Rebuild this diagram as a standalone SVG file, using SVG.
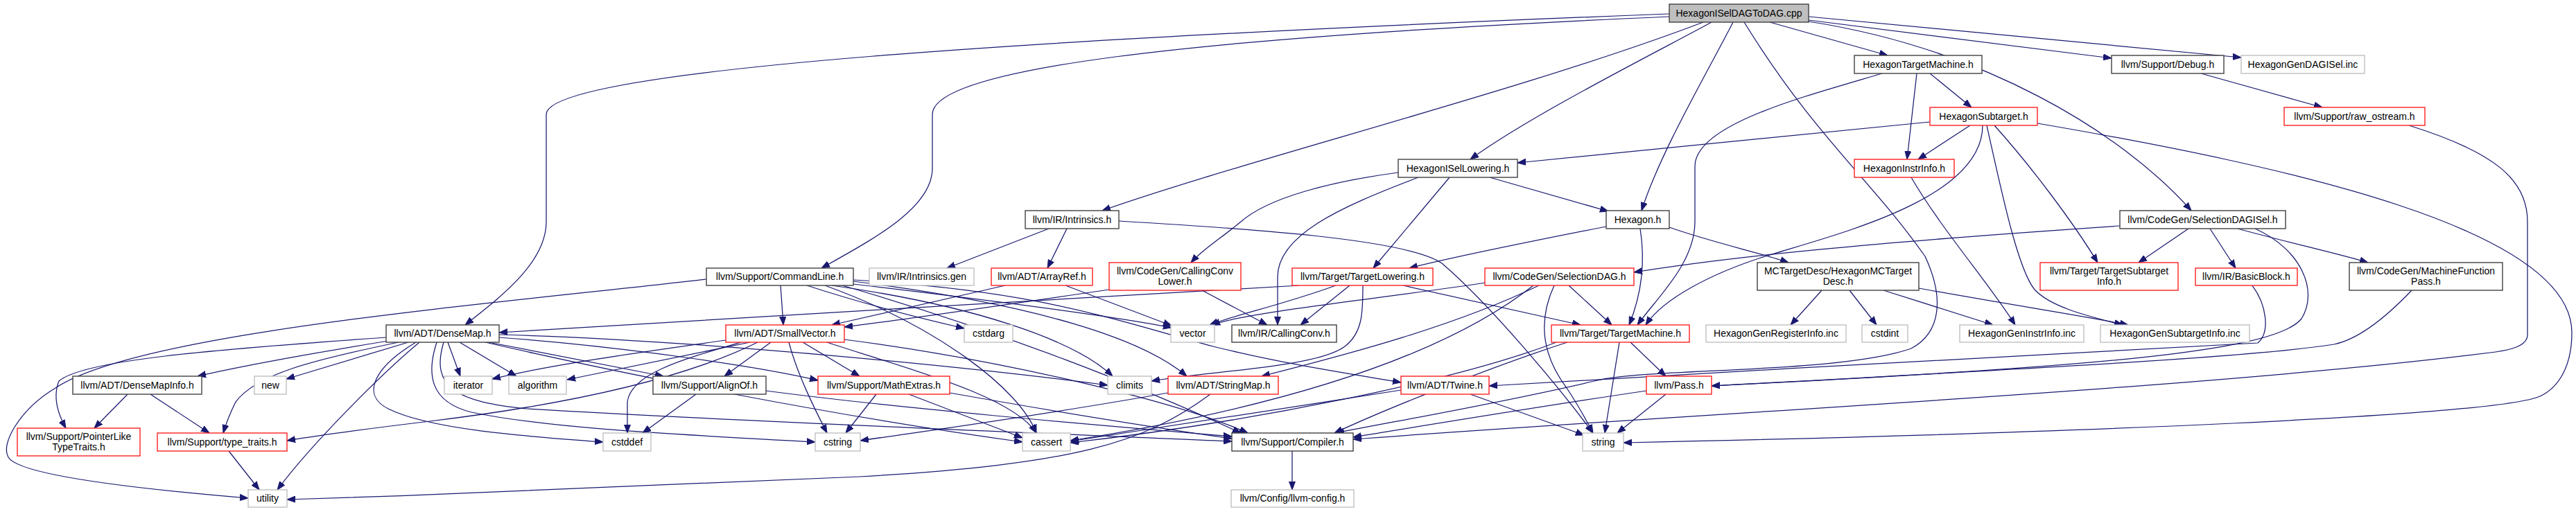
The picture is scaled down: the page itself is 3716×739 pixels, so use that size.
<svg xmlns="http://www.w3.org/2000/svg" width="3716" height="739" viewBox="0 0 3716 739">
<style>
rect{fill:#fff;stroke-width:1.4}
.b{stroke:#404040}
.r{stroke:#ff2020}
.g{stroke:#c0c0c0}
.root{fill:#bfbfbf;stroke:#404040}
text{font-family:"Liberation Sans",Arial,sans-serif;font-size:14px;text-anchor:middle;fill:#000}
#edges path{fill:none;stroke:#191970;stroke-width:1.25;marker-end:url(#a)}
</style>
<defs>
<marker id="a" viewBox="0 0 12 10" refX="12" refY="5" markerWidth="12" markerHeight="10" markerUnits="userSpaceOnUse" orient="auto">
<path d="M0,0.5 L12,5 L0,9.5 z" fill="#191970" stroke="#191970" stroke-width="1"/>
</marker>
</defs>
<rect x="0" y="0" width="3716" height="739" style="fill:#fff;stroke:none"/>
<g id="edges">
<path d="M2553,32 L2723,80"/>
<path d="M2609,29 L3046,84"/>
<path d="M2609,24 L3233,83"/>
<path d="M2469,32 C2400,70 2210,165 2121,230"/>
<path d="M2457,32 C2200,130 1800,230 1590,304"/>
<path d="M2500,32 C2460,110 2395,220 2368,304"/>
<path d="M2408,24 C1700,55 1345,100 1345,165 L1345,243 C1345,300 1260,345 1185,387"/>
<path d="M2408,20 C1500,55 788,100 788,165 L788,320 C788,380 720,430 671,469"/>
<path d="M2609,31 C2860,70 3060,190 3161,304"/>
<path d="M2516,32 C2620,200 2700,260 2777,370 C2805,430 2800,480 2757,503 C2650,540 2380,530 2300,550 C2150,585 2000,610 1927,625"/>
<path d="M2784,106 L2844,155"/>
<path d="M2765,106 L2751,230"/>
<path d="M2715,106 C2600,140 2445,180 2445,240 L2445,320 C2445,380 2390,430 2362,469"/>
<path d="M2784,176 L2189,235"/>
<path d="M2842,181 L2767,230"/>
<path d="M2860,181 C2860,290 2640,340 2540,372 C2470,395 2400,430 2374,469"/>
<path d="M2866,181 C2890,290 2912,390 2935,418 C2960,445 3020,458 3062,469"/>
<path d="M2877,181 C2930,240 2990,320 3026,379"/>
<path d="M2939,178 C3300,240 3710,330 3710,480 C3710,530 3690,560 3664,572 C3600,600 3000,625 2342,639"/>
<path d="M2757,256 C2800,330 2870,410 2907,469"/>
<path d="M2149,256 L2320,305"/>
<path d="M2017,249 C1920,262 1830,285 1790,320 C1760,345 1735,360 1718,379"/>
<path d="M2046,256 C1930,300 1843,340 1843,400 L1843,469"/>
<path d="M2091,256 L1981,387"/>
<path d="M2317,327 C2200,350 2100,370 2033,387"/>
<path d="M2366,330 C2374,380 2368,425 2350,469"/>
<path d="M2408,328 C2470,350 2540,365 2580,379"/>
<path d="M1513,330 L1366,387"/>
<path d="M1539,330 L1511,387"/>
<path d="M1614,319 C1800,330 2030,345 2080,380 C2150,440 2250,560 2298,625"/>
<path d="M3058,326 C2700,350 2500,370 2357,393"/>
<path d="M3157,330 L3085,379"/>
<path d="M3188,330 L3225,387"/>
<path d="M3228,330 C3300,350 3370,365 3416,379"/>
<path d="M3253,330 C3320,360 3345,420 3320,460 C3280,510 3000,530 2469,557"/>
<path d="M2628,419 L2583,469"/>
<path d="M2668,419 L2707,469"/>
<path d="M2717,419 L2875,469"/>
<path d="M2768,416 C2900,440 3000,455 3070,469"/>
<path d="M3175,106 L3350,155"/>
<path d="M3475,181 C3600,220 3646,260 3646,320 L3646,483 C3646,500 3620,505 3600,508 C3200,560 2400,600 1952,634"/>
<path d="M3249,412 C3270,440 3275,480 3257,495 C3000,510 2500,535 2148,557"/>
<path d="M3479,419 C3440,460 3400,490 3367,497 C3250,515 3000,528 2469,557"/>
<path d="M2352,494 L2403,543"/>
<path d="M2336,494 L2315,625"/>
<path d="M2261,494 C2150,530 2000,590 1925,625"/>
<path d="M2245,494 C2100,550 1800,610 1544,639"/>
<path d="M2263,412 L2325,469"/>
<path d="M2242,412 C2215,470 2230,520 2260,560 C2280,590 2290,610 2298,625"/>
<path d="M2143,408 C2000,430 1800,450 1748,469"/>
<path d="M2212,412 C2100,500 1900,580 1544,636"/>
<path d="M2220,412 C2100,470 1950,510 1820,543"/>
<path d="M1874,412 C1600,430 1000,460 720,480"/>
<path d="M1927,412 C1850,440 1780,455 1745,469"/>
<path d="M1947,412 L1876,469"/>
<path d="M2024,412 L2280,469"/>
<path d="M1966,412 C1966,450 1966,480 1940,500 C1900,530 1750,535 1661,550"/>
<path d="M1600,418 C1450,440 1300,462 1218,472"/>
<path d="M1734,419 L1828,469"/>
<path d="M1450,412 C1350,435 1260,455 1200,469"/>
<path d="M1537,412 L1690,470"/>
<path d="M1126,412 L1130,469"/>
<path d="M1164,412 C1250,440 1330,460 1391,474"/>
<path d="M1019,403 C700,440 200,480 80,560 C30,590 0,640 12,660 C30,690 250,710 358,719"/>
<path d="M1231,410 C1400,430 1600,455 1690,473"/>
<path d="M1200,412 C1400,440 1550,490 1605,543"/>
<path d="M1231,406 C1500,440 1650,490 1712,543"/>
<path d="M1231,404 C1500,420 1600,460 1750,500 C1850,525 1950,540 2021,552"/>
<path d="M1215,412 C1450,480 1650,560 1790,625"/>
<path d="M1190,412 C1350,470 1470,560 1495,625"/>
<path d="M1047,491 C950,505 800,525 710,547"/>
<path d="M1082,494 L818,548"/>
<path d="M1069,494 C980,520 910,540 905,580 L905,625"/>
<path d="M1112,494 L1045,543"/>
<path d="M1138,494 C1150,540 1175,590 1193,625"/>
<path d="M1158,494 L1240,543"/>
<path d="M1093,494 C1000,540 850,580 620,608 C520,620 450,630 414,636"/>
<path d="M1193,494 C1300,530 1460,570 1495,625"/>
<path d="M1218,490 C1450,520 1700,580 1800,625"/>
<path d="M557,487 C300,505 120,520 85,550 C75,575 85,600 95,618"/>
<path d="M560,492 C450,510 350,528 285,543"/>
<path d="M575,494 C450,520 370,540 340,580 C330,600 325,615 322,625"/>
<path d="M589,494 L413,547"/>
<path d="M605,494 C550,540 450,640 400,707"/>
<path d="M646,494 L664,543"/>
<path d="M663,494 L745,543"/>
<path d="M705,494 L957,543"/>
<path d="M720,487 C900,500 1100,530 1180,549"/>
<path d="M600,494 C540,530 520,570 560,590 C620,620 760,630 870,638"/>
<path d="M630,494 C615,540 620,580 680,595 C800,620 1000,628 1176,638"/>
<path d="M720,483 C1000,490 1400,530 1598,556"/>
<path d="M700,494 C900,540 1200,600 1475,638"/>
<path d="M640,494 C620,560 660,580 760,590 C1100,610 1500,625 1777,637"/>
<path d="M184,569 L136,618"/>
<path d="M217,569 L302,625"/>
<path d="M330,651 L374,707"/>
<path d="M1004,569 L927,625"/>
<path d="M1105,564 C1300,590 1600,615 1777,630"/>
<path d="M1311,569 L1475,632"/>
<path d="M1264,569 L1220,625"/>
<path d="M1370,567 C1500,590 1650,615 1777,633"/>
<path d="M1685,567 C1500,600 1350,620 1241,636"/>
<path d="M1746,569 C1650,640 1550,670 1240,688 C1000,700 700,712 414,721"/>
<path d="M2021,563 C1850,590 1650,620 1544,637"/>
<path d="M2121,569 L2285,628"/>
<path d="M2403,569 L2333,625"/>
<path d="M2375,564 C2200,590 2050,615 1952,631"/>
<path d="M1864,651 L1864,707"/>
</g>
<g id="n0"><rect class="root" x="2408" y="6" width="201" height="26"/><text x="2508.5" y="23.5">HexagonISelDAGToDAG.cpp</text></g>
<g id="n1"><rect class="b" x="2675" y="80" width="184" height="26"/><text x="2767" y="97.5">HexagonTargetMachine.h</text></g>
<g id="n2"><rect class="b" x="3046" y="80" width="162" height="26"/><text x="3127" y="97.5">llvm/Support/Debug.h</text></g>
<g id="n3"><rect class="g" x="3233" y="80" width="178" height="26"/><text x="3322" y="97.5">HexagonGenDAGISel.inc</text></g>
<g id="n4"><rect class="r" x="2784" y="155" width="155" height="26"/><text x="2861.5" y="172.5">HexagonSubtarget.h</text></g>
<g id="n5"><rect class="r" x="3295" y="155" width="203" height="26"/><text x="3396.5" y="172.5">llvm/Support/raw_ostream.h</text></g>
<g id="n6"><rect class="b" x="2017" y="230" width="172" height="26"/><text x="2103" y="247.5">HexagonISelLowering.h</text></g>
<g id="n7"><rect class="r" x="2675" y="230" width="144" height="26"/><text x="2747" y="247.5">HexagonInstrInfo.h</text></g>
<g id="n8"><rect class="b" x="1479" y="304" width="135" height="26"/><text x="1546.5" y="321.5">llvm/IR/Intrinsics.h</text></g>
<g id="n9"><rect class="b" x="2317" y="304" width="91" height="26"/><text x="2362.5" y="321.5">Hexagon.h</text></g>
<g id="n10"><rect class="b" x="3058" y="304" width="239" height="26"/><text x="3177.5" y="321.5">llvm/CodeGen/SelectionDAGISel.h</text></g>
<g id="n11"><rect class="b" x="1019" y="387" width="212" height="25"/><text x="1125" y="404">llvm/Support/CommandLine.h</text></g>
<g id="n12"><rect class="g" x="1254" y="387" width="151" height="25"/><text x="1329.5" y="404">llvm/IR/Intrinsics.gen</text></g>
<g id="n13"><rect class="r" x="1430" y="387" width="146" height="25"/><text x="1503" y="404">llvm/ADT/ArrayRef.h</text></g>
<g id="n14"><rect class="r" x="1600" y="379" width="190" height="40"/><text x="1695" y="396">llvm/CodeGen/CallingConv</text><text x="1695" y="411">Lower.h</text></g>
<g id="n15"><rect class="r" x="1864" y="387" width="203" height="25"/><text x="1965.5" y="404">llvm/Target/TargetLowering.h</text></g>
<g id="n16"><rect class="r" x="2142" y="387" width="215" height="25"/><text x="2249.5" y="404">llvm/CodeGen/SelectionDAG.h</text></g>
<g id="n17"><rect class="b" x="2535" y="379" width="233" height="40"/><text x="2651.5" y="396">MCTargetDesc/HexagonMCTarget</text><text x="2651.5" y="411">Desc.h</text></g>
<g id="n18"><rect class="r" x="2943" y="379" width="199" height="40"/><text x="3042.5" y="396">llvm/Target/TargetSubtarget</text><text x="3042.5" y="411">Info.h</text></g>
<g id="n19"><rect class="r" x="3167" y="387" width="147" height="25"/><text x="3240.5" y="404">llvm/IR/BasicBlock.h</text></g>
<g id="n20"><rect class="b" x="3389" y="379" width="221" height="40"/><text x="3499.5" y="396">llvm/CodeGen/MachineFunction</text><text x="3499.5" y="411">Pass.h</text></g>
<g id="n21"><rect class="b" x="557" y="469" width="163" height="25"/><text x="638.5" y="486">llvm/ADT/DenseMap.h</text></g>
<g id="n22"><rect class="r" x="1047" y="469" width="171" height="25"/><text x="1132.5" y="486">llvm/ADT/SmallVector.h</text></g>
<g id="n23"><rect class="g" x="1391" y="469" width="70" height="25"/><text x="1426" y="486">cstdarg</text></g>
<g id="n24"><rect class="g" x="1689" y="469" width="63" height="25"/><text x="1720.5" y="486">vector</text></g>
<g id="n25"><rect class="b" x="1777" y="469" width="151" height="25"/><text x="1852.5" y="486">llvm/IR/CallingConv.h</text></g>
<g id="n26"><rect class="r" x="2238" y="469" width="199" height="25"/><text x="2337.5" y="486">llvm/Target/TargetMachine.h</text></g>
<g id="n27"><rect class="g" x="2461" y="469" width="202" height="25"/><text x="2562" y="486">HexagonGenRegisterInfo.inc</text></g>
<g id="n28"><rect class="g" x="2686" y="469" width="66" height="25"/><text x="2719" y="486">cstdint</text></g>
<g id="n29"><rect class="g" x="2827" y="469" width="179" height="25"/><text x="2916.5" y="486">HexagonGenInstrInfo.inc</text></g>
<g id="n30"><rect class="g" x="3030" y="469" width="215" height="25"/><text x="3137.5" y="486">HexagonGenSubtargetInfo.inc</text></g>
<g id="n31"><rect class="b" x="105" y="543" width="186" height="26"/><text x="198" y="560.5">llvm/ADT/DenseMapInfo.h</text></g>
<g id="n32"><rect class="g" x="367" y="543" width="46" height="26"/><text x="390" y="560.5">new</text></g>
<g id="n33"><rect class="g" x="641" y="543" width="69" height="26"/><text x="675.5" y="560.5">iterator</text></g>
<g id="n34"><rect class="g" x="734" y="543" width="83" height="26"/><text x="775.5" y="560.5">algorithm</text></g>
<g id="n35"><rect class="b" x="942" y="543" width="163" height="26"/><text x="1023.5" y="560.5">llvm/Support/AlignOf.h</text></g>
<g id="n36"><rect class="r" x="1180" y="543" width="190" height="26"/><text x="1275" y="560.5">llvm/Support/MathExtras.h</text></g>
<g id="n37"><rect class="g" x="1598" y="543" width="63" height="26"/><text x="1629.5" y="560.5">climits</text></g>
<g id="n38"><rect class="r" x="1685" y="543" width="159" height="26"/><text x="1764.5" y="560.5">llvm/ADT/StringMap.h</text></g>
<g id="n39"><rect class="r" x="2021" y="543" width="127" height="26"/><text x="2084.5" y="560.5">llvm/ADT/Twine.h</text></g>
<g id="n40"><rect class="r" x="2375" y="543" width="94" height="26"/><text x="2422" y="560.5">llvm/Pass.h</text></g>
<g id="n41"><rect class="r" x="25" y="618" width="177" height="40"/><text x="113.5" y="635">llvm/Support/PointerLike</text><text x="113.5" y="650">TypeTraits.h</text></g>
<g id="n42"><rect class="r" x="227" y="625" width="187" height="26"/><text x="320.5" y="642.5">llvm/Support/type_traits.h</text></g>
<g id="n43"><rect class="g" x="870" y="625" width="69" height="26"/><text x="904.5" y="642.5">cstddef</text></g>
<g id="n44"><rect class="g" x="1176" y="625" width="65" height="26"/><text x="1208.5" y="642.5">cstring</text></g>
<g id="n45"><rect class="g" x="1475" y="625" width="69" height="26"/><text x="1509.5" y="642.5">cassert</text></g>
<g id="n46"><rect class="b" x="1777" y="625" width="175" height="26"/><text x="1864.5" y="642.5">llvm/Support/Compiler.h</text></g>
<g id="n47"><rect class="g" x="2283" y="625" width="59" height="26"/><text x="2312.5" y="642.5">string</text></g>
<g id="n48"><rect class="g" x="358" y="707" width="56" height="25"/><text x="386" y="724">utility</text></g>
<g id="n49"><rect class="g" x="1776" y="707" width="177" height="25"/><text x="1864.5" y="724">llvm/Config/llvm-config.h</text></g>
</svg>
